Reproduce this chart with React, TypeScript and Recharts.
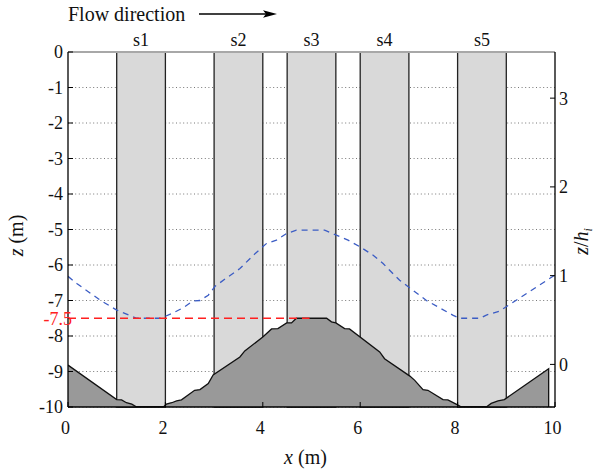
import React from 'react';
import {
  ComposedChart,
  Area,
  Line,
  XAxis,
  YAxis,
  CartesianGrid,
  ReferenceArea,
  ReferenceLine,
  LabelList,
} from 'recharts';

// ---- data ----
const xTicks = [0, 2, 4, 6, 8, 10];
const zTicks = [0, -1, -2, -3, -4, -5, -6, -7, -8, -9, -10];
const zhTicks = [0, 1, 2, 3];

const structNames = ['s1', 's2', 's3', 's4', 's5'];
const structStart = [1, 3, 4.5, 6, 8];
const structEnd = [2, 4, 5.5, 7, 9];

const bedX = [0, 1.0, 1.1, 1.2, 1.31, 1.41, 1.96, 2.02, 2.13, 2.23, 2.33, 2.6, 2.71, 2.88, 2.98, 3.53, 3.63, 4.0, 4.18, 4.31, 4.49, 4.59, 4.69, 5.31, 5.41, 5.5, 5.68, 5.78, 6.4, 6.5, 7.02, 7.12, 7.29, 7.39, 7.7, 7.8, 7.97, 8.08, 8.59, 8.69, 8.83, 8.96, 9.87, 9.87];
const bedZ = [-8.82, -9.79, -9.8, -9.88, -9.92, -10, -10, -9.92, -9.88, -9.83, -9.8, -9.53, -9.51, -9.34, -9.1, -8.59, -8.42, -8.03, -7.8, -7.79, -7.63, -7.63, -7.5, -7.5, -7.6, -7.63, -7.79, -7.8, -8.45, -8.64, -9.13, -9.25, -9.51, -9.53, -9.79, -9.8, -9.92, -10, -10, -9.9, -9.83, -9.79, -8.92, -10];

const waveX = [0, 0.18, 0.66, 1.0, 1.41, 1.68, 1.9, 2.13, 2.37, 2.57, 2.71, 2.88, 3.02, 3.26, 3.53, 3.84, 4.08, 4.28, 4.49, 4.69, 5.27, 5.51, 5.75, 6.0, 6.26, 6.47, 6.67, 6.81, 7.36, 7.9, 8.04, 8.46, 8.59, 8.86, 9.78, 10];
const waveZ = [-6.32, -6.52, -6.99, -7.27, -7.5, -7.5, -7.5, -7.37, -7.2, -7.01, -7.0, -6.85, -6.6, -6.36, -6.1, -5.68, -5.39, -5.3, -5.11, -5.02, -5.02, -5.16, -5.3, -5.49, -5.72, -5.96, -6.24, -6.43, -7.0, -7.41, -7.5, -7.5, -7.41, -7.3, -6.48, -6.28];

const refX = [0, 4.96];
const refZ = [-7.5, -7.5];
const refLabel = '-7.5';

const bedData = bedX.map((x, i) => ({ x, z: bedZ[i] }));
const waveData = waveX.map((x, i) => ({ x, z: waveZ[i] }));
const refData = refX.map((x, i) => ({ x, z: refZ[i] }));

const FONT = 'Liberation Serif';
const TICK_FS = 18;
const LABEL_FS = 20;

const LeftTick = (props: any) => {
  const { x, y, payload } = props;
  const ax = x + 5;
  return (
    <g>
      <line x1={ax} x2={ax + 5} y1={y} y2={y} stroke="#000" strokeWidth={1} />
      <text x={x} y={y} dy="0.355em" textAnchor="end" fontSize={TICK_FS} fontFamily={FONT} fill="#111">
        {payload.value}
      </text>
    </g>
  );
};

const RightTick = (props: any) => {
  const { x, y, payload } = props;
  const ax = x - 4;
  return (
    <g>
      <line x1={ax} x2={ax - 5} y1={y} y2={y} stroke="#000" strokeWidth={1} />
      <text x={x} y={y} dy="0.355em" textAnchor="start" fontSize={TICK_FS} fontFamily={FONT} fill="#111">
        {payload.value}
      </text>
    </g>
  );
};

const BottomTick = (props: any) => {
  const { x, y, payload } = props;
  const ay = y - 14;
  return (
    <g>
      <line x1={x} x2={x} y1={ay} y2={ay - 5} stroke="#000" strokeWidth={1} />
      <text x={x - 2.5} y={y} dy="0.71em" textAnchor="middle" fontSize={TICK_FS} fontFamily={FONT} fill="#111">
        {payload.value}
      </text>
    </g>
  );
};

const LeftLabel = (props: any) => {
  const vb = props.viewBox || { x: 0, y: 52, width: 68, height: 355 };
  const cx = vb.x + 16;
  const cy = vb.y + vb.height / 2 + 6;
  return (
    <text x={cx} y={cy} textAnchor="middle" transform={`rotate(-90, ${cx}, ${cy})`} dy="0.35em" fontSize={LABEL_FS} fontFamily={FONT} fill="#111">
      <tspan fontStyle="italic">z</tspan>
      <tspan> (m)</tspan>
    </text>
  );
};

const RightLabel = (props: any) => {
  const vb = props.viewBox || { x: 555, y: 52, width: 39, height: 355 };
  const cx = vb.x + 26;
  const cy = vb.y + vb.height / 2 + 12;
  return (
    <text x={cx} y={cy} textAnchor="middle" transform={`rotate(-90, ${cx}, ${cy})`} dy="0.35em" fontSize={LABEL_FS} fontFamily={FONT} fill="#111">
      <tspan fontStyle="italic">z</tspan>
      <tspan>/</tspan>
      <tspan fontStyle="italic">h</tspan>
      <tspan fontStyle="italic" fontSize={12} dy="4">i</tspan>
    </text>
  );
};

const BottomLabel = (props: any) => {
  const vb = props.viewBox || { x: 68, y: 407, width: 487, height: 66 };
  const cx = vb.x + vb.width / 2 - 6;
  const cy = vb.y + 57;
  return (
    <text x={cx} y={cy} textAnchor="middle" fontSize={LABEL_FS} fontFamily={FONT} fill="#111">
      <tspan fontStyle="italic">x</tspan>
      <tspan> (m)</tspan>
    </text>
  );
};

const RefLabel = (props: any) => {
  const { x, y, index } = props;
  if (index !== 0) return null;
  return (
    <text x={x + 4} y={y} dy="0.355em" textAnchor="end" fontSize={TICK_FS} fontFamily={FONT} fill="#ff2020">
      {refLabel}
    </text>
  );
};

export default function App() {
  return (
    <div style={{ position: 'absolute', left: 0, top: 0, width: 594, height: 473, background: '#fff' }}>
      <ComposedChart width={594} height={473} margin={{ top: 52, right: 0, bottom: 0, left: 0 }}>
        <CartesianGrid yAxisId="left" vertical={false} horizontal stroke="#777" strokeDasharray="1 2.6" />
        <XAxis
          type="number"
          dataKey="x"
          domain={[0, 10]}
          ticks={xTicks}
          height={66}
          tickSize={5}
          tickMargin={9}
          tickLine={false}
          tick={<BottomTick />}
          axisLine={{ stroke: '#000', strokeWidth: 1.3 }}
          label={<BottomLabel />}
          allowDataOverflow
        />
        <YAxis
          yAxisId="left"
          type="number"
          domain={[-10, 0]}
          ticks={zTicks}
          width={68}
          tickSize={5}
          tickMargin={0}
          tickLine={false}
          tick={<LeftTick />}
          axisLine={{ stroke: '#000', strokeWidth: 1.3 }}
          label={<LeftLabel />}
          allowDataOverflow
        />
        <YAxis
          yAxisId="right"
          orientation="right"
          type="number"
          domain={[-0.48, 3.52]}
          ticks={zhTicks}
          width={39}
          tickSize={4}
          tickMargin={0}
          tickLine={false}
          tick={<RightTick />}
          axisLine={{ stroke: '#000', strokeWidth: 1.3 }}
          label={<RightLabel />}
          allowDataOverflow
        />
        <ReferenceLine yAxisId="left" y={0} stroke="#a8a8a8" strokeWidth={2} />
        {structNames.map((name, i) => (
          <ReferenceArea
            key={name}
            yAxisId="left"
            x1={structStart[i]}
            x2={structEnd[i]}
            y1={0}
            y2={-10}
            fill="#d9d9d9"
            fillOpacity={1}
            stroke="#222"
            strokeWidth={1.3}
            label={{ value: name, position: 'top', offset: 6, fill: '#111', fontSize: TICK_FS, fontFamily: FONT }}
          />
        ))}
        <Area
          yAxisId="left"
          data={bedData}
          dataKey="z"
          type="linear"
          baseValue={-10}
          fill="#999999"
          fillOpacity={1}
          stroke="#111"
          strokeWidth={1.3}
          isAnimationActive={false}
          dot={false}
          activeDot={false}
        />
        <Line
          yAxisId="left"
          data={waveData}
          dataKey="z"
          type="linear"
          stroke="#3b5cc4"
          strokeWidth={1.3}
          strokeDasharray="6 5"
          dot={false}
          activeDot={false}
          isAnimationActive={false}
        />
        <Line
          yAxisId="left"
          data={refData}
          dataKey="z"
          type="linear"
          stroke="#ff2020"
          strokeWidth={1.3}
          strokeDasharray="8 5"
          dot={false}
          activeDot={false}
          isAnimationActive={false}
        >
          <LabelList dataKey="z" content={<RefLabel />} />
        </Line>
      </ComposedChart>
      <svg width={594} height={30} style={{ position: 'absolute', left: 0, top: 0 }}>
        <text x={68} y={21} fontSize={LABEL_FS} fontFamily={FONT} fill="#111">Flow direction</text>
        <line x1={199} x2={266} y1={14} y2={14} stroke="#000" strokeWidth={1.3} />
        <polygon points="263,10.3 277,14 263,17.7 266,14" fill="#000" />
      </svg>
    </div>
  );
}
